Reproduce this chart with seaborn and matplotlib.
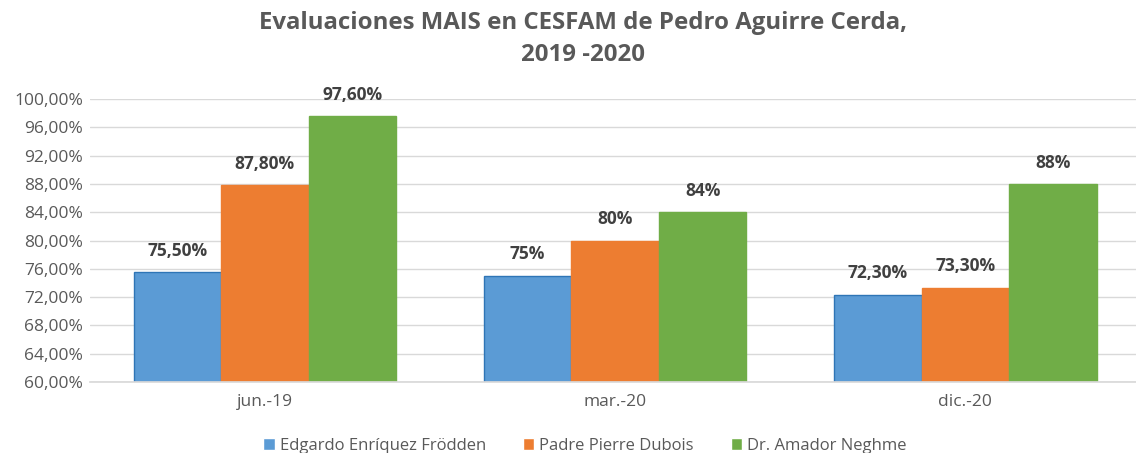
import numpy as np
import pandas as pd
import seaborn as sns
import matplotlib.pyplot as plt
import matplotlib.ticker

periodos = ["jun.-19", "mar.-20", "dic.-20"]
centros = ["Edgardo Enríquez Frödden", "Padre Pierre Dubois", "Dr. Amador Neghme"]
valores = {
    "Edgardo Enríquez Frödden": [75.5, 75.0, 72.3],
    "Padre Pierre Dubois": [87.8, 80.0, 73.3],
    "Dr. Amador Neghme": [97.6, 84.0, 88.0],
}
etiquetas = {
    "Edgardo Enríquez Frödden": ["75,50%", "75%", "72,30%"],
    "Padre Pierre Dubois": ["87,80%", "80%", "73,30%"],
    "Dr. Amador Neghme": ["97,60%", "84%", "88%"],
}
colores = ["#5B9BD5", "#ED7D31", "#70AD47"]
bordes = ["#2E75B6", "#ED7D31", "#70AD47"]

sns.set_theme(style="white")
plt.rcParams["font.family"] = ["Open Sans", "DejaVu Sans"]

rows = []
for c in centros:
    for p, v in zip(periodos, valores[c]):
        rows.append({"periodo": p, "centro": c, "valor": v})
df = pd.DataFrame(rows)

fig = plt.figure(figsize=(11.36, 4.53), dpi=100)
ax = fig.add_axes([0.079, 0.157, 0.925, 0.624])

sns.barplot(
    data=df, x="periodo", y="valor", hue="centro",
    order=periodos, hue_order=centros, palette=colores,
    width=0.75, gap=0, ax=ax, legend=True, saturation=1,
)

for cont, c, ec in zip(ax.containers, centros, bordes):
    for bar in cont:
        bar.set_edgecolor(ec)
        bar.set_linewidth(1)
        bar.set_y(60)
        bar.set_height(bar.get_height() - 60)
    ax.bar_label(cont, labels=etiquetas[c], padding=9, fontsize=12.5,
                 fontweight="bold", color="#404040")

ax.set_ylim(60, 100)
ax.set_xlim(-0.5, 2.5)
ax.yaxis.set_major_locator(matplotlib.ticker.MultipleLocator(4))
ax.yaxis.set_major_formatter(
    matplotlib.ticker.FuncFormatter(lambda v, _: f"{v:.2f}%".replace(".", ","))
)
ax.grid(axis="y", color="#D9D9D9", linewidth=1)
ax.set_axisbelow(True)
for s in ["top", "right", "left"]:
    ax.spines[s].set_visible(False)
ax.spines["bottom"].set_color("#D9D9D9")
ax.tick_params(axis="y", length=0, labelsize=12.5, labelcolor="#595959", pad=5)
ax.tick_params(axis="x", length=0, labelsize=12.5, labelcolor="#595959", pad=9)
ax.set_xlabel("")
ax.set_ylabel("")

fig.suptitle("Evaluaciones MAIS en CESFAM de Pedro Aguirre Cerda,\n2019 -2020",
             y=0.975, fontsize=17.3, fontweight="bold", color="#595959",
             linespacing=1.45, x=0.513)

handles, labels = ax.get_legend_handles_labels()
ax.legend_.remove()
fig.legend(handles, labels, loc="lower center", bbox_to_anchor=(0.515, -0.035),
           ncol=3, frameon=False, fontsize=12, handlelength=0.7,
           handleheight=0.7, handletextpad=0.3, columnspacing=2.2,
           labelcolor="#595959")

fig.savefig("out.png", dpi=100)
